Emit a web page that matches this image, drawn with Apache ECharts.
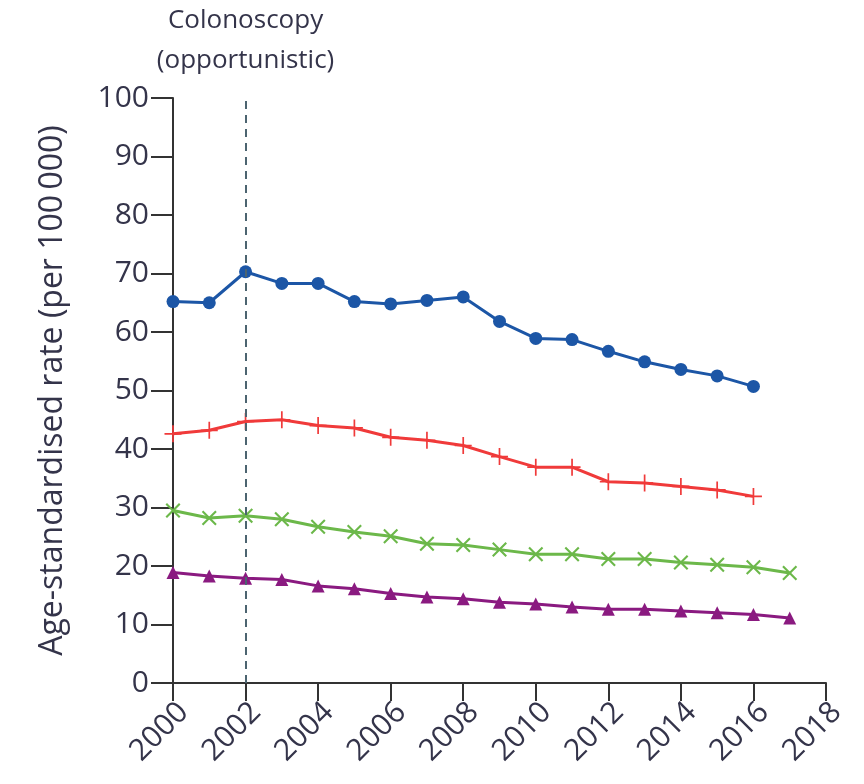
<!DOCTYPE html>
<html>
<head>
<meta charset="utf-8">
<script src="https://cdn.jsdelivr.net/npm/echarts@6/dist/echarts.min.js"></script>
<style>
html, body { margin: 0; padding: 0; background: #fff; }
#chart { width: 864px; height: 784px; }
</style>
</head>
<body>
<div id="chart"></div>
<script>
// years for each series
const years = [2000, 2001, 2002, 2003, 2004, 2005, 2006, 2007, 2008, 2009, 2010, 2011, 2012, 2013, 2014, 2015, 2016, 2017]
// values
const blueValues = [65.2, 65.0, 70.3, 68.3, 68.3, 65.2, 64.8, 65.4, 66.0, 61.8, 58.9, 58.7, 56.7, 54.9, 53.6, 52.5, 50.7]
const redValues = [42.6, 43.2, 44.7, 45.0, 44.0, 43.6, 42.0, 41.5, 40.6, 38.7, 36.9, 36.9, 34.4, 34.2, 33.6, 33.0, 31.9]
const greenValues = [29.5, 28.2, 28.6, 28.0, 26.7, 25.8, 25.1, 23.8, 23.6, 22.8, 22.0, 22.0, 21.2, 21.2, 20.6, 20.2, 19.8, 18.8]
const purpleValues = [18.9, 18.3, 17.9, 17.7, 16.6, 16.1, 15.3, 14.7, 14.4, 13.8, 13.5, 13.0, 12.6, 12.6, 12.3, 12.0, 11.7, 11.1]
const screeningYear = 2002
const screeningLabel = 'Colonoscopy\n(opportunistic)'

const pairs = vals => vals.map((v, i) => [years[i], v])

const textColor = '#34344a'
const axisColor = '#333'
const font = 'Open Sans'

const plusPath = 'path://M9,0h2v20h-2zM0,9h20v2h-20z'
const crossPath = 'path://M0,2L2,0L10,8L18,0L20,2L12,10L20,18L18,20L10,12L2,20L0,18L8,10Z'

const chart = echarts.init(document.getElementById('chart'))
const option = {
  animation: false,
  grid: { left: 173, right: 38, top: 98, bottom: 101 },
  xAxis: {
    type: 'value',
    min: 2000,
    max: 2018,
    interval: 2,
    splitLine: { show: false },
    axisLine: { show: true, onZero: false, lineStyle: { color: axisColor, width: 2 } },
    axisTick: { show: true, length: 18, lineStyle: { color: axisColor, width: 2 } },
    axisLabel: {
      rotate: 45,
      margin: 14,
      verticalAlign: 'top',
      showMinLabel: true,
      showMaxLabel: true,
      color: textColor,
      fontFamily: font,
      fontSize: 30,
      formatter: v => String(v)
    }
  },
  yAxis: {
    type: 'value',
    min: 0,
    max: 100,
    interval: 10,
    name: 'Age-standardised rate (per 100\u2009000)',
    nameLocation: 'middle',
    nameGap: 104,
    nameTextStyle: { color: textColor, fontFamily: font, fontSize: 32 },
    splitLine: { show: false },
    axisLine: { show: true, lineStyle: { color: axisColor, width: 2 } },
    axisTick: { show: true, length: 22, lineStyle: { color: axisColor, width: 2 } },
    axisLabel: { margin: 24, color: textColor, fontFamily: font, fontSize: 30 }
  },
  series: [
    {
      name: 'blue',
      type: 'line',
      data: pairs(blueValues),
      symbol: 'circle',
      symbolSize: 13,
      lineStyle: { color: '#1c56a6', width: 3 },
      itemStyle: { color: '#1c56a6' },
      markLine: {
        silent: true,
        symbol: 'none',
        lineStyle: { type: [8, 6], color: '#4c6470', width: 2 },
        label: {
          show: true,
          position: 'end',
          distance: 17,
          formatter: screeningLabel,
          color: textColor,
          fontFamily: font,
          fontSize: 26,
          lineHeight: 40
        },
        data: [{ xAxis: screeningYear }]
      }
    },
    {
      name: 'red',
      type: 'line',
      data: pairs(redValues),
      symbol: plusPath,
      symbolSize: 17,
      lineStyle: { color: '#f03a3a', width: 3 },
      itemStyle: { color: '#f03a3a' }
    },
    {
      name: 'green',
      type: 'line',
      data: pairs(greenValues),
      symbol: crossPath,
      symbolSize: 15,
      lineStyle: { color: '#6cb84a', width: 3 },
      itemStyle: { color: '#6cb84a' }
    },
    {
      name: 'purple',
      type: 'line',
      data: pairs(purpleValues),
      symbol: 'triangle',
      symbolSize: 13,
      lineStyle: { color: '#8a1a80', width: 3 },
      itemStyle: { color: '#8a1a80' }
    }
  ]
}
chart.setOption(option)
</script>
</body>
</html>
